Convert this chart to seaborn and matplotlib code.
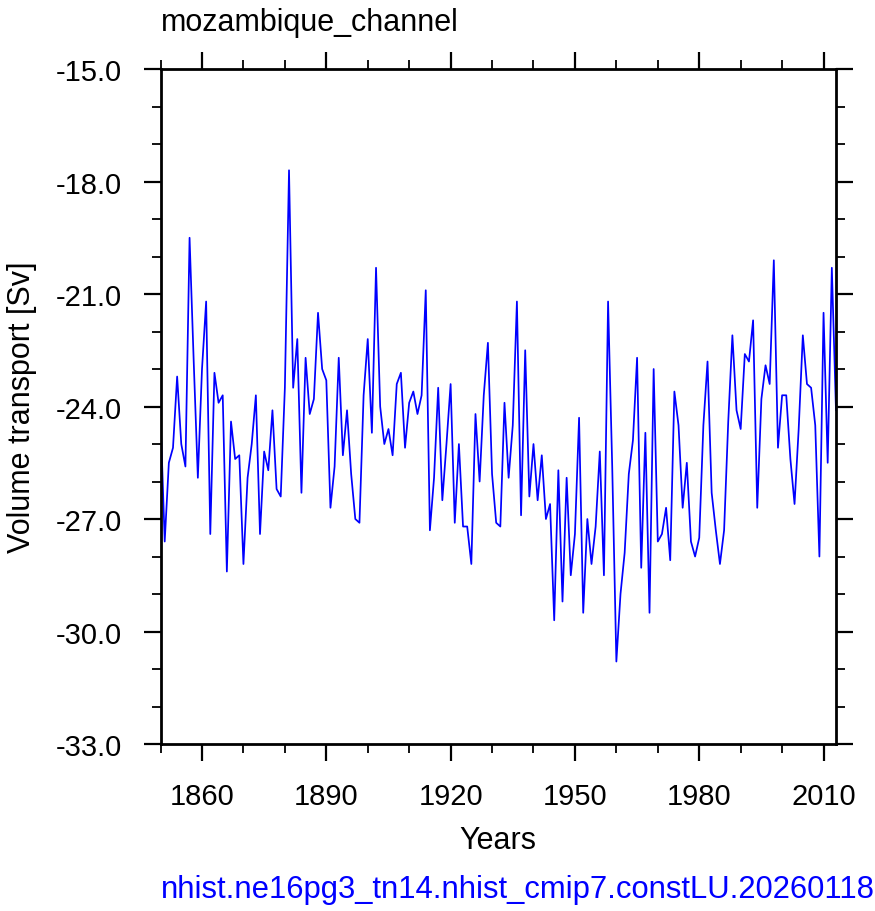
import matplotlib
matplotlib.use("Agg")
import matplotlib.pyplot as plt
from matplotlib.ticker import MultipleLocator, FormatStrFormatter
import seaborn as sns
import pandas as pd

# Annual volume transport through the Mozambique Channel [Sv], 1850-2013
YEARS = list(range(1850, 2014))
TRANSPORT = [
    -24.3, -27.6, -25.5, -25.1, -23.2, -25.0, -25.6, -19.5, -22.8, -25.9,  # 1850s
    -23.0, -21.2, -27.4, -23.1, -23.9, -23.7, -28.4, -24.4, -25.4, -25.3,  # 1860s
    -28.2, -25.9, -25.0, -23.7, -27.4, -25.2, -25.7, -24.1, -26.2, -26.4,  # 1870s
    -23.5, -17.7, -23.5, -22.2, -26.3, -22.7, -24.2, -23.8, -21.5, -23.0,  # 1880s
    -23.3, -26.7, -25.6, -22.7, -25.3, -24.1, -25.8, -27.0, -27.1, -23.7,  # 1890s
    -22.2, -24.7, -20.3, -24.0, -25.0, -24.6, -25.3, -23.4, -23.1, -25.1,  # 1900s
    -23.9, -23.6, -24.2, -23.7, -20.9, -27.3, -25.9, -23.5, -26.5, -25.0,  # 1910s
    -23.4, -27.1, -25.0, -27.2, -27.2, -28.2, -24.2, -26.0, -23.7, -22.3,  # 1920s
    -25.8, -27.1, -27.2, -23.9, -25.9, -24.5, -21.2, -26.9, -22.5, -26.4,  # 1930s
    -25.0, -26.5, -25.3, -27.0, -26.6, -29.7, -25.7, -29.2, -25.9, -28.5,  # 1940s
    -27.4, -24.3, -29.5, -27.0, -28.2, -27.2, -25.2, -28.5, -21.2, -25.6,  # 1950s
    -30.8, -29.0, -27.9, -25.8, -24.9, -22.7, -28.3, -24.7, -29.5, -23.0,  # 1960s
    -27.6, -27.4, -26.7, -28.1, -23.6, -24.5, -26.7, -25.5, -27.6, -28.0,  # 1970s
    -27.5, -24.5, -22.8, -26.3, -27.3, -28.2, -27.3, -24.4, -22.1, -24.1,  # 1980s
    -24.6, -22.6, -22.8, -21.7, -26.7, -23.8, -22.9, -23.4, -20.1, -25.1,  # 1990s
    -23.7, -23.7, -25.4, -26.6, -24.6, -22.1, -23.4, -23.5, -24.5, -28.0,  # 2000s
    -21.5, -25.5, -20.3, -24.1,                                              # 2010s
]

TITLE = "mozambique_channel"
X_LABEL = "Years"
Y_LABEL = "Volume transport [Sv]"
CASE_NAME = "nhist.ne16pg3_tn14.nhist_cmip7.constLU.20260118"

sns.set_style("ticks")
plt.rcParams["font.family"] = ["Liberation Sans", "DejaVu Sans"]
plt.rcParams["text.color"] = "black"
plt.rcParams["axes.labelcolor"] = "black"
plt.rcParams["xtick.color"] = "black"
plt.rcParams["ytick.color"] = "black"

df = pd.DataFrame({"year": YEARS, "transport": TRANSPORT})

fig = plt.figure(figsize=(8.75, 9.12), dpi=100)
ax = fig.add_axes([0.1835, 0.1831, 0.7719, 0.7401])

sns.lineplot(data=df, x="year", y="transport", color="#0000FF", lw=1.25, ax=ax)

ax.set_xlim(1850, 2013)
ax.set_ylim(-33, -15)
ax.xaxis.set_major_locator(MultipleLocator(30))
ax.xaxis.set_minor_locator(MultipleLocator(10))
ax.yaxis.set_major_locator(MultipleLocator(3))
ax.yaxis.set_minor_locator(MultipleLocator(1))
ax.yaxis.set_major_formatter(FormatStrFormatter("%.1f"))

for s in ax.spines.values():
    s.set_visible(True)
    s.set_linewidth(2.0)
    s.set_color("black")

ax.tick_params(which="both", direction="out", top=True, right=True,
               colors="black", labelsize=21)
ax.tick_params(which="major", length=12.5, width=1.6, pad=15)
ax.tick_params(which="minor", length=6.5, width=1.3)

ax.set_xlabel(X_LABEL, fontsize=22, va="center")
ax.xaxis.set_label_coords(0.5, -0.1422)
ax.set_ylabel(Y_LABEL, fontsize=22, va="center")
ax.yaxis.set_label_coords(-0.205, 0.5)

fig.text(0.1835, 0.966, TITLE, fontsize=22, ha="left", va="baseline")
fig.text(0.1835, 0.0154, CASE_NAME, fontsize=22.3, color="#0000FF",
         ha="left", va="baseline")

fig.savefig("out.png", dpi=100)
